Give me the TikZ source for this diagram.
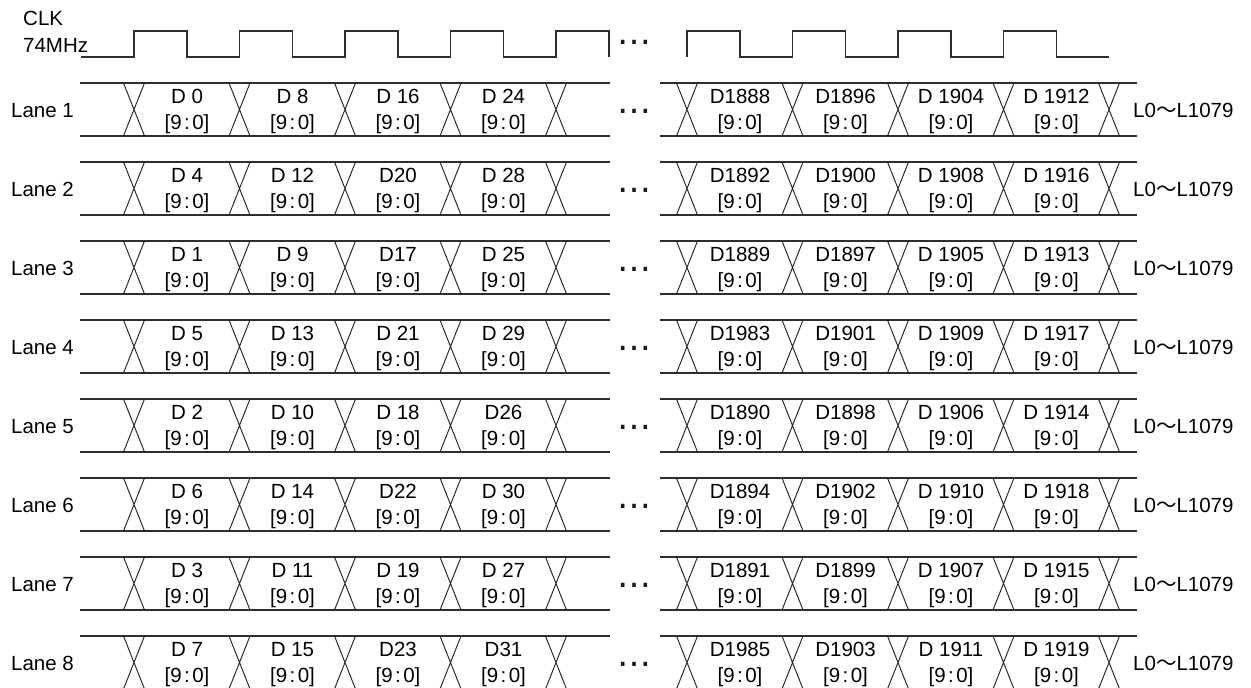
\documentclass[tikz,border=0pt]{standalone}
\usepackage{fontspec}
\setmainfont{Liberation Sans}
\newfontfamily\jpfont{Noto Sans CJK JP}
\newfontfamily\dvfont{DejaVu Sans}
\newcommand\lanerow[9]{%
  \pgfmathsetmacro\yt{83+79*(#1-1)}%
  \pgfmathsetmacro\yb{\yt+53}%
  \node[lbl,anchor=base west] (lane#1) at (11,\yt+34) {Lane #1};
  \draw[wave] (81,\yt) -- (609,\yt) (81,\yb) -- (609,\yb);
  \draw[wave] (661,\yt) -- (1136,\yt) (661,\yb) -- (1136,\yb);
  \foreach \cx in {134,239.5,345,450.5,556,687,792.5,898,1003.5,1109}
    \draw[xline] ({\cx-10.5},\yt) -- ({\cx+10.5},\yb) ({\cx-10.5},\yb) -- ({\cx+10.5},\yt);
  \node[ellip] (ell#1) at (634.5,\yt+28) {…};
  \foreach \k/\cx/\txt in {1/187/#2,2/292.5/#3,3/398/#4,4/503.5/#5,5/740/#6,6/845.5/#7,7/951/#8,8/1056.5/#9}{
    \node[lbl,anchor=base] (d#1-\k) at (\cx,\yt+20.5) {\txt};
    \node[lbl,anchor=base] (b#1-\k) at (\cx,\yt+46) {[9\kern2.5pt:\kern2.5pt0]};
  }
  \node[lbl,anchor=base west] (rng#1) at (1133,\yt+34) {L0{\jpfont 〜}L1079};
}
\begin{document}
\begin{tikzpicture}[x=1pt,y=-1pt,
  wave/.style={line width=1.4pt, draw=black!82, line cap=rect},
  xline/.style={line width=0.95pt, draw=black!85},
  lbl/.style={font=\fontsize{20.5}{24}\selectfont, inner sep=0pt, text=black},
  ellip/.style={font=\dvfont\fontsize{34}{34}\selectfont, inner sep=0pt, text=black!90}]
\useasboundingbox (0,0) rectangle (1251,688);
\clip (0,0) rectangle (1251,688);
\fill[white] (0,0) rectangle (1251,688);
% clock
\node[lbl,anchor=base west] (clk) at (23,25) {CLK};
\node[lbl,anchor=base west] (freq) at (23,52) {74MHz};
\draw[wave,line cap=butt] (81,57) -- (134,57) -- (134,31) -- (187,31) -- (187,57)
  -- (239.5,57) -- (239.5,31) -- (292.5,31) -- (292.5,57)
  -- (345,57) -- (345,31) -- (398,31) -- (398,57)
  -- (450.5,57) -- (450.5,31) -- (503.5,31) -- (503.5,57)
  -- (556,57) -- (556,31) -- (609,31) -- (609,57);
\draw[wave,line cap=butt] (687,57) -- (687,31) -- (740,31) -- (740,57)
  -- (792.5,57) -- (792.5,31) -- (845.5,31) -- (845.5,57)
  -- (898,57) -- (898,31) -- (951,31) -- (951,57)
  -- (1003.5,57) -- (1003.5,31) -- (1056.5,31) -- (1056.5,57) -- (1109,57);
\node[ellip] (ellclk) at (634.5,42) {…};
% lanes
\lanerow{1}{D 0}{D 8}{D 16}{D 24}{D1888}{D1896}{D 1904}{D 1912}
\lanerow{2}{D 4}{D 12}{D20}{D 28}{D1892}{D1900}{D 1908}{D 1916}
\lanerow{3}{D 1}{D 9}{D17}{D 25}{D1889}{D1897}{D 1905}{D 1913}
\lanerow{4}{D 5}{D 13}{D 21}{D 29}{D1983}{D1901}{D 1909}{D 1917}
\lanerow{5}{D 2}{D 10}{D 18}{D26}{D1890}{D1898}{D 1906}{D 1914}
\lanerow{6}{D 6}{D 14}{D22}{D 30}{D1894}{D1902}{D 1910}{D 1918}
\lanerow{7}{D 3}{D 11}{D 19}{D 27}{D1891}{D1899}{D 1907}{D 1915}
\lanerow{8}{D 7}{D 15}{D23}{D31}{D1985}{D1903}{D 1911}{D 1919}
\end{tikzpicture}
\end{document}
